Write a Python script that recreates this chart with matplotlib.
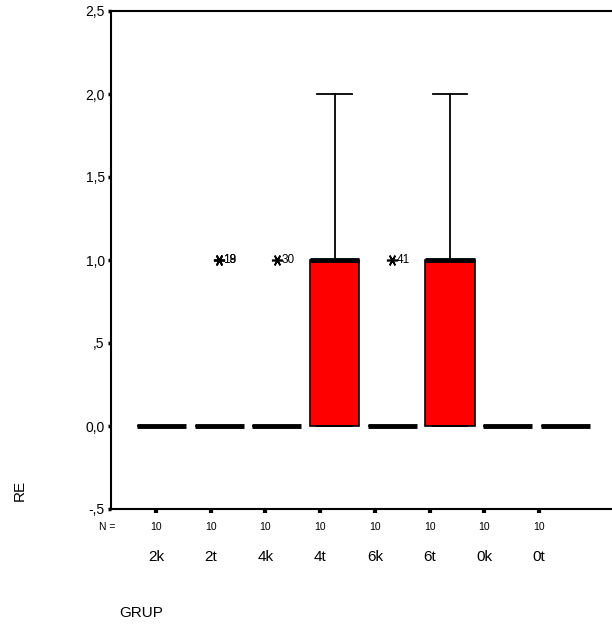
import matplotlib
matplotlib.use("Agg")
import matplotlib.pyplot as plt
import matplotlib.transforms as mtransforms
import numpy as np

plt.rcParams['font.family'] = ['Liberation Sans', 'DejaVu Sans']

# data: values per group (10 cases each)
groups = ['2k', '2t', '4k', '4t', '6k', '6t', '0k', '0t']
values = [
    [0, 0, 0, 0, 0, 0, 0, 0, 0, 0],
    [0, 0, 0, 0, 0, 0, 0, 0, 1, 1],
    [0, 0, 0, 0, 0, 0, 0, 0, 0, 1],
    [0, 0, 0, 0, 1, 1, 1, 1, 1, 2],
    [0, 0, 0, 0, 0, 0, 0, 0, 0, 1],
    [0, 0, 0, 0, 1, 1, 1, 1, 1, 2],
    [0, 0, 0, 0, 0, 0, 0, 0, 0, 0],
    [0, 0, 0, 0, 0, 0, 0, 0, 0, 0],
]
n_counts = [10, 10, 10, 10, 10, 10, 10, 10]
# outlier case numbers: (group index, value, case id)
outlier_ids = [(1, 1.0, '18'), (1, 1.0, '19'), (2, 1.0, '30'), (4, 1.0, '41')]
yticks = [-0.5, 0.0, 0.5, 1.0, 1.5, 2.0, 2.5]
ytick_labels = ['-,5', '0,0', ',5', '1,0', '1,5', '2,0', '2,5']

W, H = 612, 633
fig = plt.figure(figsize=(W / 100, H / 100), dpi=100)
ax = fig.add_axes([111 / W, 1 - 509 / H, (615 - 111) / W, (509 - 11) / H])

pos = np.arange(len(groups))
asterisk = (6, 2, 90)
ax.boxplot(values, positions=pos, widths=0.85, patch_artist=True,
           boxprops=dict(facecolor='#ff0000', edgecolor='black', linewidth=1.2),
           medianprops=dict(color='black', linewidth=3.5, solid_capstyle='butt'),
           whiskerprops=dict(color='black', linewidth=1.3),
           capprops=dict(color='black', linewidth=1.3),
           capwidths=0.6,
           flierprops=dict(marker=asterisk, markersize=8, markeredgecolor='black',
                           markeredgewidth=1.2, linestyle='none'))

for gi, v, cid in outlier_ids:
    ax.annotate(cid, (pos[gi], v), xytext=(3, 0), textcoords='offset points',
                fontsize=8.5, va='center', ha='left')

ax.set_xlim((111 - 161.5) / 57.7, (615 - 161.5) / 57.7)
ax.set_ylim(-0.5, 2.5)
ax.set_yticks(yticks)
ax.set_yticklabels(ytick_labels, fontsize=10)
ax.tick_params(axis='y', direction='out', length=2.5, width=2.5, pad=2)

tick_pos = pos * 0.948 - 0.095
ax.set_xticks(tick_pos)
ax.set_xticklabels([])
ax.tick_params(axis='x', direction='out', length=3, width=3)

for s in ['left', 'bottom', 'top']:
    ax.spines[s].set_linewidth(1.5)
ax.spines['right'].set_visible(False)

trans = mtransforms.blended_transform_factory(ax.transData, fig.transFigure)
for tp, n, g in zip(tick_pos, n_counts, groups):
    ax.text(tp, 1 - 527 / H, str(n), transform=trans, fontsize=7.5,
            ha='center', va='center')
    ax.text(tp, 1 - 557 / H, g, transform=trans, fontsize=11,
            ha='center', va='center')

fig.text(107 / W, 1 - 527 / H, 'N =', fontsize=7.5, ha='center', va='center')
fig.text(20 / W, 1 - 490 / H, 'RE', fontsize=11, rotation=90,
         ha='center', va='center')
fig.text(141 / W, 1 - 613 / H, 'GRUP', fontsize=11, ha='center', va='center')

fig.savefig('out.png', dpi=100, facecolor='white')
